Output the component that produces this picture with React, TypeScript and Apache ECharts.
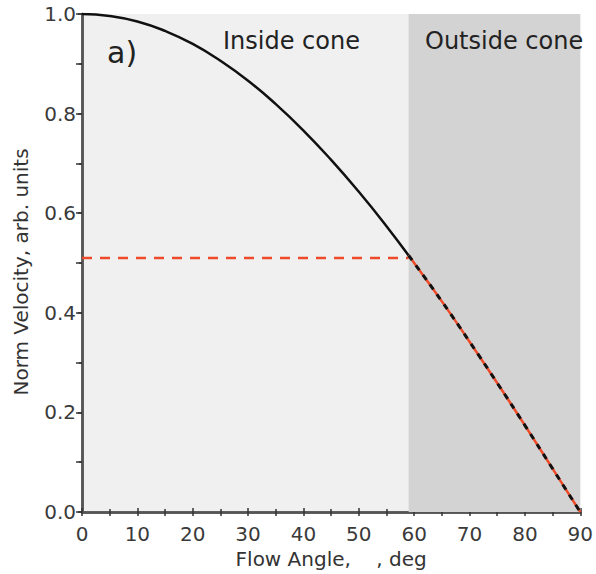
import React, { useEffect, useRef } from "react";
import * as echarts from "echarts";

const insideAngles = [0, 5, 10, 15, 20, 25, 30, 35, 40, 45, 50, 55, 59];
const insideVelocity = [1.0, 0.996, 0.985, 0.966, 0.94, 0.906, 0.866, 0.819, 0.766, 0.707, 0.643, 0.574, 0.515];
const outsideAngles = [59, 60, 65, 70, 75, 80, 85, 90];
const outsideVelocity = [0.515, 0.5, 0.423, 0.342, 0.259, 0.174, 0.087, 0.0];
const coneAngle = 59;
const refVelocity = 0.51;
const xTicks = [0, 10, 20, 30, 40, 50, 60, 70, 80, 90];
const yTicks = [0.0, 0.2, 0.4, 0.6, 0.8, 1.0];

export default function App() {
  const ref = useRef<HTMLDivElement>(null);
  useEffect(() => {
    const chart = echarts.init(ref.current!, null, { renderer: "svg" });
    const font = "DejaVu Sans, sans-serif";
    const axisLine = { lineStyle: { color: "#555555", width: 2.5 } };
    const tickStyle = { lineStyle: { color: "#333", width: 1.5 } };
    chart.setOption({
      animation: false,
      backgroundColor: "#ffffff",
      grid: { left: 82, right: 11, top: 14, bottom: 61, show: true, backgroundColor: "#f0f0f0", borderWidth: 0 },
      xAxis: [
        {
          type: "value", min: xTicks[0], max: xTicks[xTicks.length - 1], interval: 10,
          name: "Flow Angle,    , deg", nameLocation: "middle", nameGap: 37,
          nameTextStyle: { fontFamily: font, fontSize: 20, color: "#333" },
          axisLine, axisTick: { inside: true, length: 4, ...tickStyle },
          minorTick: { show: true, splitNumber: 2, length: 3, lineStyle: { color: "#333", width: 1.5 } },
          splitLine: { show: false },
          axisLabel: { fontFamily: font, fontSize: 20, color: "#3a3a3a", margin: 12 },
        },
        {
          type: "value", position: "top", min: 0, max: 90, interval: 5,
          axisLine, axisTick: { inside: true, length: 4, ...tickStyle },
          axisLabel: { show: false }, splitLine: { show: false },
        },
      ],
      yAxis: [
        {
          type: "value", min: yTicks[0], max: yTicks[yTicks.length - 1], interval: 0.2,
          axisLine, axisTick: { inside: false, length: 4, ...tickStyle },
          minorTick: { show: true, splitNumber: 2, length: 3, lineStyle: { color: "#333", width: 1.5 } },
          splitLine: { show: false },
          axisLabel: { fontFamily: font, fontSize: 20, color: "#3a3a3a", margin: 6, formatter: (v: number) => v.toFixed(1) },
        },
        {
          type: "value", position: "right", min: 0, max: 1, interval: 0.1,
          axisLine, axisTick: { inside: true, length: 6, ...tickStyle },
          axisLabel: { show: false }, splitLine: { show: false },
        },
      ],
      graphic: [
        { type: "text", x: 21, y: 272, rotation: Math.PI / 2, z: 100, style: { text: "Norm Velocity, arb. units", fontFamily: font, fontSize: 20, fill: "#333", align: "center", verticalAlign: "middle" } },
        { type: "text", left: 107, top: 37, z: 100, style: { text: "a)", fontFamily: font, fontSize: 30, fill: "#222" } },
        { type: "text", left: 223, top: 29, z: 100, style: { text: "Inside cone", fontFamily: font, fontSize: 24, fill: "#222" } },
        { type: "text", left: 425, top: 29, z: 100, style: { text: "Outside cone", fontFamily: font, fontSize: 24, fill: "#222" } },
      ],
      series: [
        {
          type: "line", data: [], silent: true,
          markArea: {
            silent: true,
            itemStyle: { color: "#d3d3d3" },
            data: [[{ xAxis: coneAngle }, { xAxis: 90 }]],
          },
        },
        {
          type: "line", showSymbol: false, smooth: true,
          data: insideAngles.map((a, i) => [a, insideVelocity[i]]),
          lineStyle: { color: "#111", width: 2.5 },
        },
        {
          type: "line", showSymbol: false,
          data: [[0, refVelocity], [coneAngle, refVelocity]],
          lineStyle: { color: "#ee4a28", width: 2.5, type: [10, 8] },
        },
        {
          type: "line", showSymbol: false, smooth: true,
          data: outsideAngles.map((a, i) => [a, outsideVelocity[i]]),
          lineStyle: { color: "#ee4a28", width: 2.5 },
        },
        {
          type: "line", showSymbol: false, smooth: true,
          data: outsideAngles.map((a, i) => [a, outsideVelocity[i]]),
          lineStyle: { color: "#111", width: 3, type: [6, 6] },
        },
      ],
    });
    return () => chart.dispose();
  }, []);
  return <div ref={ref} style={{ position: "absolute", left: 0, top: 0, width: 596, height: 574 }} />;
}
